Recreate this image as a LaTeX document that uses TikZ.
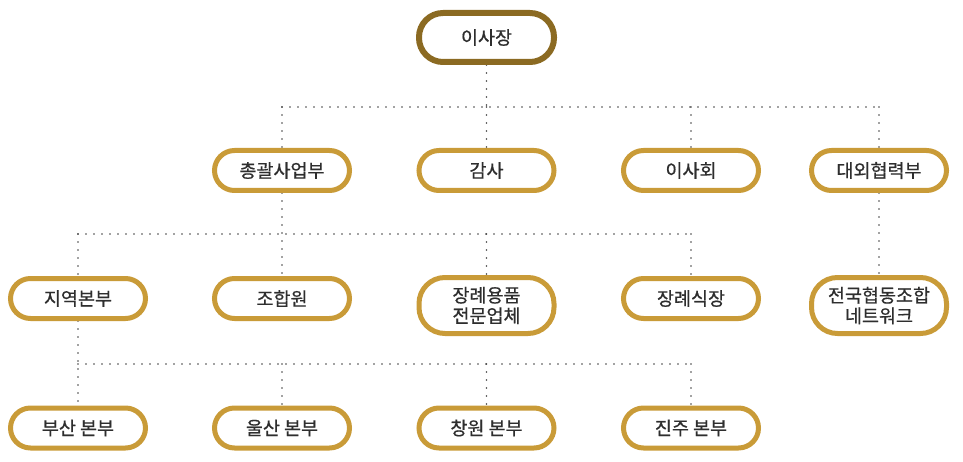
\documentclass[tikz,border=0pt]{standalone}
\usepackage{fontspec}
\newfontfamily\kr{Noto Sans CJK KR}[FakeBold=0.6]
\usetikzlibrary{backgrounds}
\definecolor{gold}{HTML}{C99B38}
\definecolor{darkgold}{HTML}{8B6A22}
\definecolor{ink}{HTML}{2E2E2E}
\definecolor{dotgray}{HTML}{444444}
\begin{document}
\begin{tikzpicture}[x=1pt, y=1pt,
		box/.style={draw=gold, line width=5pt, fill=white, rounded corners=20pt, minimum width=135pt, minimum height=40pt, inner sep=0pt, align=center, text=ink, font=\kr\fontsize{18.5}{20.5}\selectfont},
		tallbox/.style={box, minimum height=56pt, rounded corners=26pt},
		topbox/.style={box, draw=darkgold, line width=6pt, minimum height=49pt, rounded corners=24pt},
		link/.style={draw=dotgray, line width=1.8pt, line cap=round, dash pattern=on 0pt off 8pt}]
		\useasboundingbox (0,0) rectangle (963,-462);
		\node[topbox] (chair) at (486.5,-37.5) {이사장};
		\node[box] (general) at (282,-170.5) {총괄사업부};
		\node[box] (audit) at (486.5,-170.5) {감사};
		\node[box] (board) at (691,-170.5) {이사회};
		\node[box] (external) at (879,-170.5) {대외협력부};
		\node[box] (regional) at (78,-298.5) {지역본부};
		\node[box] (members) at (282,-298.5) {조합원};
		\node[tallbox] (supplies) at (486.5,-305.5) {장례용품\\전문업체};
		\node[box] (hall) at (691,-298.5) {장례식장};
		\node[tallbox] (network) at (879,-305.5) {전국협동조합\\네트워크};
		\node[box] (busan) at (78,-428) {부산 본부};
		\node[box] (ulsan) at (282,-428) {울산 본부};
		\node[box] (changwon) at (486.5,-428) {창원 본부};
		\node[box] (jinju) at (691,-428) {진주 본부};
		\coordinate (bus1) at (486.5,-107);
		\coordinate (bus2) at (282,-234);
		\coordinate (bus3) at (78,-364);
		\begin{scope}[on background layer]
		\draw[link] (chair.south) -- (bus1);
		\draw[link] (general |- bus1) -- (external |- bus1);
		\foreach \n in {general,audit,board,external}
			\draw[link] (\n |- bus1) -- (\n.north);
		\draw[link] (general.south) -- (members.north);
		\draw[link] (regional |- bus2) -- (hall |- bus2);
		\foreach \n in {regional,supplies,hall}
			\draw[link] (\n |- bus2) -- (\n.north);
		\draw[link] (external.south) -- (network.north);
		\draw[link] (regional.south) -- (busan.north);
		\draw[link] (regional |- bus3) -- (jinju |- bus3);
		\foreach \n in {ulsan,changwon,jinju}
			\draw[link] (\n |- bus3) -- (\n.north);
		\end{scope}
\end{tikzpicture}
\end{document}
